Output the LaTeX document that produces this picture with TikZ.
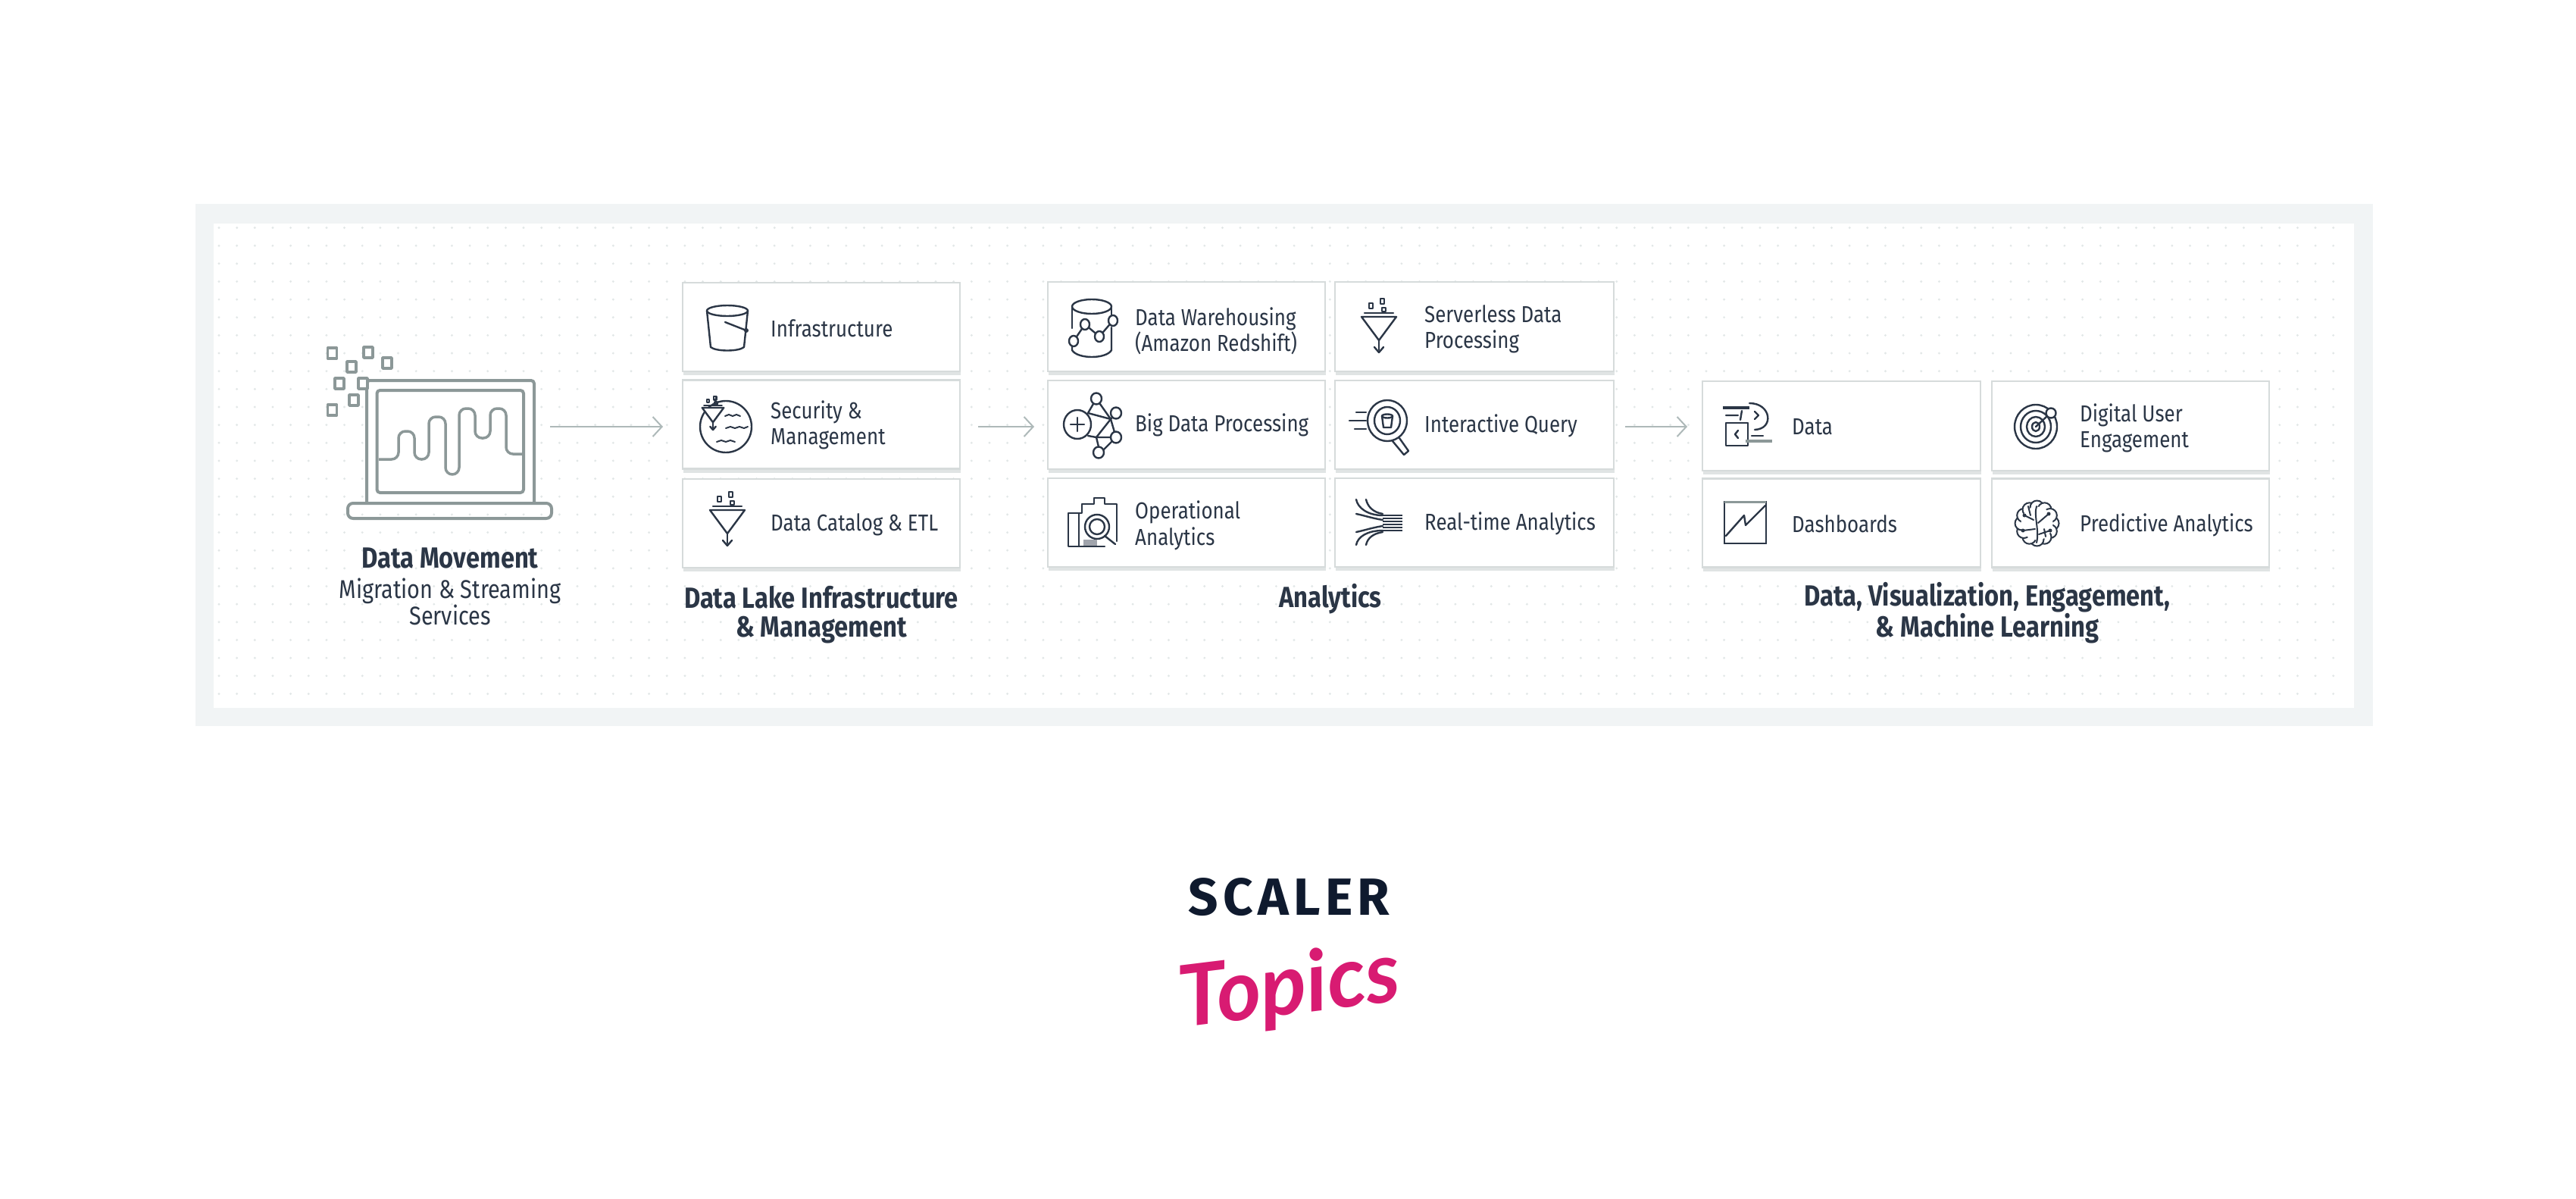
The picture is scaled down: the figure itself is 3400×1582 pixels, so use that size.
\documentclass[tikz,border=0pt]{standalone}
\usepackage{fontspec}
\setmainfont{Fira Sans}[FakeStretch=0.85]
\newfontfamily\logofont{Fira Sans}[LetterSpace=9]
\newfontfamily\topicfont{Lato}
\usetikzlibrary{arrows.meta,shadows}
\definecolor{ink}{HTML}{2B3646}
\definecolor{frame}{HTML}{F1F4F5}
\definecolor{dotc}{HTML}{E2E7E7}
\definecolor{edge}{HTML}{D6DBDB}
\definecolor{shade}{HTML}{E0E4E4}
\definecolor{lapt}{HTML}{8C9898}
\definecolor{arrowc}{HTML}{AEB9B9}
\definecolor{navy}{HTML}{0F1A2E}
\definecolor{pink}{HTML}{D81B72}
\tikzset{
  boxnode/.style={draw=edge,fill=white,line width=2.5pt,inner sep=0pt,
    general shadow={shadow xshift=1pt,shadow yshift=-5pt,fill=shade}},
  lbl/.style={anchor=west,inner sep=0pt,text=ink,align=left,font=\fontsize{30.5}{34.5}\selectfont},
  ttl/.style={anchor=center,inner sep=0pt,text=ink,align=center,font=\fontsize{38.5}{38}\selectfont\bfseries},
  sub/.style={anchor=center,inner sep=0pt,text=ink,align=center,font=\fontsize{34}{32}\selectfont},
  ic/.style={draw=ink,line width=2.4pt,line join=round,line cap=round},
  lap/.style={draw=lapt,line width=4pt,line join=round},
  flow/.style={draw=arrowc,line width=2pt,-{Straight Barb[length=12pt,width=26pt,line width=2pt]}},
  funnelpic/.pic={
    \draw[ic,fill=white] (-23,0)--(23,0)--(0,31)--cycle;
    \draw[ic] (-19,-5)--(19,-5);
    \draw[ic] (0,31)--(0,44);
    \draw[ic] (-6,40)--(0,47)--(6,40);
    \draw[ic] (-13,-18) rectangle (-8,-11);
    \draw[ic] (2,-24) rectangle (7,-17);
    \draw[ic] (4,-12) rectangle (9,-7);
  }
}
\newcommand{\mkbox}[5]{\node[boxnode,minimum width=#4pt,minimum height=#5pt] (#1) at (#2,#3) {};}
\begin{document}
\begin{tikzpicture}[x=1pt,y=-1pt]
\useasboundingbox (0,0) rectangle (3400,1582);
% frame
\fill[frame] (258,269) rectangle (3132,958);
\fill[white] (282,295) rectangle (3107,934);
\foreach \i in {0,...,118}{\foreach \j in {0,...,26}{\fill[dotc] ({289+23.65*\i},{300.5+23.65*\j}) circle (1.6);}}
% laptop
\draw[lap,fill=white,rounded corners=4pt] (484,663) -- (484,502) -- (705,502) -- (705,663);
\draw[lap,rounded corners=4pt] (497.5,515) rectangle (691,650);
\draw[lap,rounded corners=7pt] (459,664) -- (728,664) -- (728,684) -- (459,684) -- cycle;
\draw[lap,line width=3.5pt,rounded corners=9pt] (500,606)--(526,606)--(526,569)--(547,569)--(547,606)--(566,606)--(566,550)--(588,550)--(588,626)--(606,626)--(606,539)--(627,539)--(627,578)--(647,578)--(647,539)--(668,539)--(668,599)--(691,599);
\foreach \p/\q in {438.6/466,486/465,511/479,464/484,448/506,479/506,467/528,438.6/541}{
  \draw[lap,fill=white,line width=3.5pt] (\p-6,\q-7) rectangle (\p+6,\q+7);}
\node[ttl] (tmove) at (594,736) {Data Movement};
\node[sub] (tmig) at (594,794) {Migration \& Streaming\\[1pt]Services};
% boxes
\mkbox{infra}{1084}{431.5}{366}{117}
\mkbox{secu}{1084}{560}{366}{117}
\mkbox{catal}{1084}{690.5}{366}{117}
\mkbox{wareh}{1566}{431}{366}{118}
\mkbox{bigd}{1566}{560.5}{366}{117}
\mkbox{oper}{1566}{689.5}{366}{117}
\mkbox{serv}{1946}{431}{368}{118}
\mkbox{inter}{1946}{560.5}{368}{117}
\mkbox{realt}{1946}{689.5}{368}{117}
\mkbox{datab}{2430.5}{562}{367}{118}
\mkbox{dash}{2430.5}{690}{367}{117}
\mkbox{digi}{2812}{562}{366}{118}
\mkbox{pred}{2812}{690}{366}{117}
% labels
\node[lbl] (linfra) at (1017,433) {Infrastructure};
\node[lbl] (lsecu) at (1017,561) {Security \&\\Management};
\node[lbl] (lcatal) at (1017,692) {Data Catalog \& ETL};
\node[lbl] (lwareh) at (1498,437) {Data Warehousing\\(Amazon Redshift)};
\node[lbl] (lbigd) at (1498,560.5) {Big Data Processing};
\node[lbl] (loper) at (1498,693.5) {Operational\\Analytics};
\node[lbl] (lserv) at (1880,434.5) {Serverless Data\\Processing};
\node[lbl] (linter) at (1880,562) {Interactive Query};
\node[lbl] (lrealt) at (1880,691) {Real-time Analytics};
\node[lbl] (ldatab) at (2365,563) {Data};
\node[lbl] (ldash) at (2365,691.5) {Dashboards};
\node[lbl] (ldigi) at (2745,565) {Digital User\\Engagement};
\node[lbl] (lpred) at (2745,693) {Predictive Analytics};
\node[ttl] (tlake) at (1084,811) {Data Lake Infrastructure\\\& Management};
\node[ttl] (tana) at (1756,790) {Analytics};
\node[ttl] (tvis) at (2623,809) {Data, Visualization, Engagement,\\\& Machine Learning};
% connectors
\coordinate (a1s) at (726,563); \coordinate (a1e) at (875,563);
\coordinate (a2s) at (1291,563); \coordinate (a2e) at (1365,563);
\coordinate (a3s) at (2145,563); \coordinate (a3e) at (2227,563);
\draw[flow] (a1s) -- (a1e);
\draw[flow] (a2s) -- (a2e);
\draw[flow] (a3s) -- (a3e);
% bucket
\draw[ic] (960,410) ellipse (27 and 7);
\draw[ic] (933,410) -- (938,458) .. controls (945,464) and (975,464) .. (982,458) -- (987,410);
\draw[ic] (957,425) -- (985,436);
\fill[ink] (985,436) circle (3);
% security
\draw[ic] (958,563) ellipse (34 and 34);
\pic[scale=.62] at (941,538) {funnelpic};
\draw[ic,line width=2pt] (957,549) -- ++(5,-2) -- ++(5,2) -- ++(5,-2) -- ++(5,2);
\draw[ic,line width=2pt] (958,565) -- ++(6,-2) -- ++(6,2) -- ++(6,-2) -- ++(6,2) -- ++(5,-2);
\draw[ic,line width=2pt] (946,583) -- ++(6,-2) -- ++(6,2) -- ++(6,-2) -- ++(6,2);
% etl funnel
\pic at (960,673) {funnelpic};
% warehouse
\draw[ic] (1441,404.5) ellipse (26 and 9.5);
\draw[ic] (1415,405) -- (1415,433);
\draw[ic] (1415,456) -- (1415,462) .. controls (1422,474) and (1460,474) .. (1467,462) -- (1467,432);
\draw[ic] (1467,405) -- (1467,416);
\draw[ic] (1417,450) -- (1432,428) -- (1451,444) -- (1469,423);
\foreach \p/\q in {1432/428,1469/423,1451/444,1417/450}{\draw[ic,fill=white] (\p,\q) ellipse (6 and 7);}
% big data
\draw[ic] (1447,526) -- (1436,545) -- (1466,553) -- (1447,526);
\draw[ic] (1473,545) -- (1466,553) -- (1473,577) -- (1452,598) -- (1447,577) -- (1436,575);
\draw[ic] (1466,553) -- (1447,577) -- (1473,577);
\draw[ic,fill=white] (1422,560) ellipse (18 and 19);
\draw[ic] (1413,560) -- (1431,560) (1422,551) -- (1422,569);
\foreach \p/\q in {1447/526,1473/545,1473/577,1450/597}{\draw[ic,fill=white] (\p,\q) ellipse (7 and 7.5);}
% serverless funnel
\pic at (1820,418) {funnelpic};
% interactive query
\draw[ic] (1831,555) ellipse (26 and 27);
\draw[ic] (1831,555) ellipse (17 and 18);
\draw[ic] (1831,549) ellipse (7 and 2.5);
\draw[ic] (1824,549) -- (1826,564) -- (1836,564) -- (1838,549);
\draw[ic] (1838,582) -- (1853,600) -- (1859,595) -- (1847,578);
\draw[ic] (1790,544) -- (1803,544) (1781,555) -- (1803,555) (1788,566) -- (1803,566);
% operational
\draw[ic] (1458,721) -- (1410,721) -- (1410,677) -- (1428,677) -- (1428,665) -- (1444,665) -- (1444,657) -- (1458,657) -- (1458,665) -- (1474,665) -- (1474,714);
\draw[ic] (1424,678) -- (1424,720);
\draw[ic,fill=white] (1448,695) circle (16);
\draw[ic] (1448,695) circle (10);
\draw[ic] (1458,707) -- (1472,718);
\fill[ink!45] (1430,712) rectangle (1448,720);
% real-time
\foreach \q in {680,684,688,692,696,700}{\draw[ic,line width=2pt,line cap=butt] (1825,\q) -- (1851,\q);}
\draw[ic] (1790,659) .. controls (1792,670) and (1805,680) .. (1825,680);
\draw[ic] (1803,659) .. controls (1805,668) and (1812,676) .. (1825,678);
\draw[ic] (1790,678) .. controls (1800,680) and (1812,684) .. (1825,686);
\draw[ic] (1790,702) .. controls (1800,700) and (1812,696) .. (1825,694);
\draw[ic] (1790,719) .. controls (1792,708) and (1805,700) .. (1825,700);
\draw[ic] (1803,719) .. controls (1805,710) and (1812,704) .. (1825,702);
% data icon
\draw[ic,line width=3.4pt,line cap=butt] (2274,538) -- (2309,538);
\draw[ic] (2278,548) -- (2294,548) (2299,542) -- (2297,554);
\draw[ic] (2316,543) -- (2321,548) -- (2316,553);
\draw[ic] (2309,532) .. controls (2338,532) and (2342,566) .. (2316,567);
\draw[ic] (2307,558) -- (2278,558) -- (2278,588) -- (2307,588) -- (2307,558);
\draw[ic] (2294,568) -- (2290,573) -- (2294,578);
\draw[ic] (2312,575) -- (2327,575);
\draw[lapt,line width=4.5pt] (2304,582) -- (2339,582);
% dashboards
\draw[ic,line join=miter] (2276,662) rectangle (2331,717);
\draw[lapt,line width=3pt] (2276,662) -- (2331,662);
\draw[ic] (2278,707) -- (2302,680) -- (2304,693) -- (2330,667);
% target
\draw[ic] (2687,563) ellipse (28 and 29);
\draw[ic] (2687,563) ellipse (20 and 21);
\draw[ic] (2687,563) ellipse (12 and 13);
\draw[ic] (2687,563) ellipse (5 and 6);
\draw[ic,fill=white] (2707,545) circle (6.5);
\draw[ic] (2687,563) -- (2702,549);
% brain
\foreach \a in {0,30,...,330}{\draw[ic,line width=2pt,fill=white] ({2688.5+20*cos(\a)},{690.5+21*sin(\a)}) circle (9);}
\fill[white] (2688.5,690.5) ellipse (21 and 22);
\draw[ic,line width=2pt] (2688,668) .. controls (2684,680) and (2692,700) .. (2688,716);
\draw[ic,line width=2pt] (2672,680) -- (2684,686) (2704,678) -- (2690,690) (2670,700) -- (2686,698) (2706,700) -- (2691,705) (2677,668) -- (2680,680) (2700,708) -- (2698,698);
\foreach \p/\q in {2672/680,2704/678,2670/700,2706/700}{\fill[ink] (\p,\q) circle (2.5);}
% logo
\node[inner sep=0pt,text=navy,font=\logofont\fontsize{69}{69}\selectfont\bfseries] (scaler) at (1701.5,1184) {SCALER};
\node[inner sep=0pt,text=pink,rotate=7,font=\topicfont\fontsize{112}{112}\selectfont\bfseries\itshape] (topics) at (1702,1306) {Topics};
\end{tikzpicture}
\end{document}
